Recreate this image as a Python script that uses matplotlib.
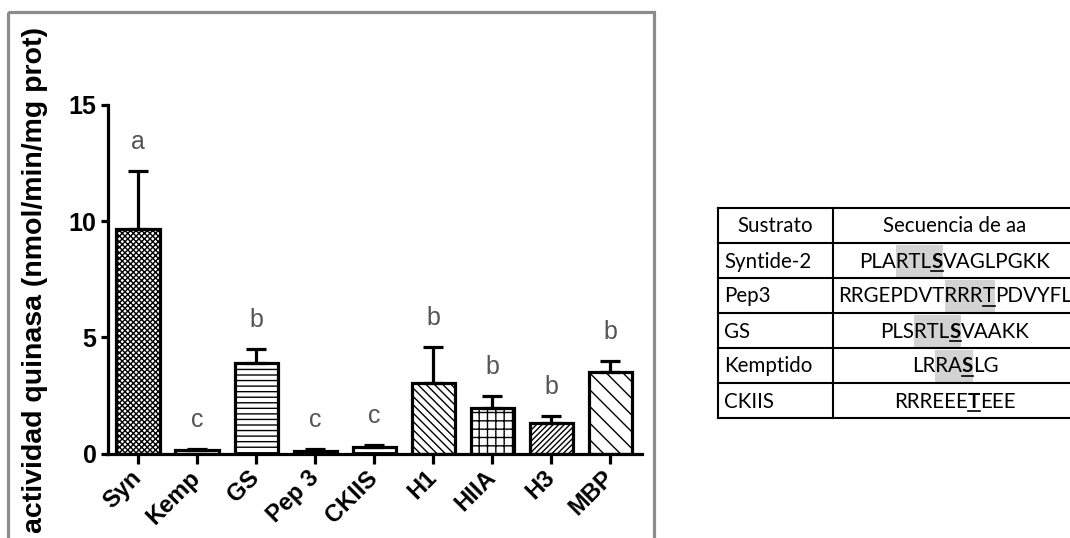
import matplotlib
matplotlib.use("Agg")
import matplotlib.pyplot as plt
import numpy as np
from matplotlib.font_manager import FontProperties
from matplotlib.patches import Rectangle

# ── Data ───────────────────────────────────────────────────────────────
SUBSTRATES = ["Syn", "Kemp", "GS", "Pep 3", "CKIIS", "H1", "HIIA", "H3", "MBP"]
ACTIVITY = [9.65, 0.15, 3.9, 0.12, 0.27, 3.04, 1.95, 1.33, 3.5]
SEM = [2.5, 0.06, 0.6, 0.08, 0.08, 1.53, 0.54, 0.28, 0.5]
GROUPS = ["a", "c", "b", "c", "c", "b", "b", "b", "b"]
HATCHES = ["xxxxxx", "", "---", "", "---", "\\\\\\\\", "++", "//////", "\\\\"]

Y_LABEL = "actividad quinasa (nmol/min/mg prot)"
Y_TICKS = [0, 5, 10, 15]

TABLE_HEADER = ["Sustrato", "Secuencia de aa"]
TABLE_NAMES = ["Syntide-2", "Pep3", "GS", "Kemptido", "CKIIS"]
TABLE_SEQS = ["PLARTLSVAGLPGKK", "RRGEPDVTRRRTPDVYFL", "PLSRTLSVAAKK", "LRRASLG", "RRREEETEEE"]
HIGHLIGHT = [(3, 7), (8, 12), (3, 7), (2, 5), None]   # shaded residues [start, end)
SITE = [6, 11, 6, 4, 6]                               # phospho-acceptor residue
SITE_BOLD = [True, False, True, True, True]

W, H = 1070, 538
TABLE_FONT = "Lato"
TABLE_SIZE = 14.8

plt.rcParams["font.family"] = ["Liberation Sans", "DejaVu Sans"]
plt.rcParams["hatch.linewidth"] = 1.0

fig = plt.figure(figsize=(W / 100, H / 100), dpi=100)
fig.patch.set_facecolor("white")

# ── Bar chart ──────────────────────────────────────────────────────────
ax = fig.add_axes([107.5 / W, 1 - 453.5 / H, (642 - 107.5) / W, (453.5 - 105) / H])
x = np.arange(len(SUBSTRATES))
bars = ax.bar(x, ACTIVITY, width=0.73, color="white", edgecolor="black",
              linewidth=2.3, zorder=2)
for bar, hatch in zip(bars, HATCHES):
    bar.set_hatch(hatch)
ax.errorbar(x, ACTIVITY, yerr=[np.zeros(len(x)), SEM], fmt="none", ecolor="black",
            elinewidth=2.3, capsize=7, capthick=2.3, zorder=3)

for xi, m, e, g in zip(x, ACTIVITY, SEM, GROUPS):
    ax.text(xi, m + e + 1.25, g, ha="center", va="center", fontsize=18,
            color="#555555", clip_on=False)

ax.set_xlim(-0.517, 8.54)
ax.set_ylim(0, 15)
ax.set_yticks(Y_TICKS)
ax.set_xticks(x)
ax.set_xticklabels(SUBSTRATES, rotation=45, ha="right", va="center",
                   rotation_mode="anchor", fontsize=17, fontweight="bold")
for lab in ax.get_yticklabels():
    lab.set_fontweight("bold")
ax.tick_params(axis="y", length=5, width=2.3, labelsize=18, pad=3)
ax.tick_params(axis="x", length=7, width=2.3, pad=8)
for side in ("top", "right"):
    ax.spines[side].set_visible(False)
for side in ("left", "bottom"):
    ax.spines[side].set_linewidth(2.3)
ax.patch.set_alpha(0)

# ── Overlay in pixel coordinates: frame, y label, table ────────────────
ov = fig.add_axes([0, 0, 1, 1], zorder=-1)
ov.set_xlim(0, W)
ov.set_ylim(H, 0)
ov.axis("off")

ov.add_patch(Rectangle((8, 12), 646, 600, fill=False, edgecolor="#8c8c8c", linewidth=2.3))
ov.text(35, 280, Y_LABEL, rotation=90, ha="center", va="center",
        fontsize=20.5, fontweight="bold")

tab_left, tab_div, tab_right = 718, 833, 1073
row_lines = [208, 243, 278, 313, 348, 383, 418]
for yl in row_lines:
    ov.plot([tab_left, tab_right], [yl, yl], color="black", lw=1.5, solid_capstyle="projecting")
for xl in (tab_left, tab_div):
    ov.plot([xl, xl], [row_lines[0], row_lines[-1]], color="black", lw=1.5,
            solid_capstyle="projecting")

renderer = fig.canvas.get_renderer()


def advance(text, weight):
    """Pen advance of *text* in pixels, measured between two sentinel bars."""
    if not text:
        return 0.0
    prop = FontProperties(family=TABLE_FONT, size=TABLE_SIZE, weight=weight)
    full = renderer.get_text_width_height_descent("|" + text + "|", prop, ismath=False)[0]
    bare = renderer.get_text_width_height_descent("||", prop, ismath=False)[0]
    return full - bare


col2_center = 955
header_base = (row_lines[0] + row_lines[1]) / 2 + 7
ov.text((tab_left + tab_div) / 2, header_base, TABLE_HEADER[0],
        ha="center", va="baseline", family=TABLE_FONT, fontsize=TABLE_SIZE)
ov.text(col2_center, header_base, TABLE_HEADER[1],
        ha="center", va="baseline", family=TABLE_FONT, fontsize=TABLE_SIZE)

for i, (name, seq) in enumerate(zip(TABLE_NAMES, TABLE_SEQS)):
    top, bot = row_lines[i + 1], row_lines[i + 2]
    base = (top + bot) / 2 + 7
    ov.text(724, base, name, ha="left", va="baseline", family=TABLE_FONT, fontsize=TABLE_SIZE)

    s = SITE[i]
    wsite = "bold" if SITE_BOLD[i] else "normal"
    pieces = [(seq[:s], "normal"), (seq[s], wsite), (seq[s + 1:], "normal")]
    widths = [advance(t, w) for t, w in pieces]
    x0 = col2_center - sum(widths) / 2
    starts = [x0, x0 + widths[0], x0 + widths[0] + widths[1]]

    hl = HIGHLIGHT[i]
    if hl is not None:
        hx0 = x0 + advance(seq[:hl[0]], "normal")
        hx1 = starts[2] + advance(seq[s + 1:hl[1]], "normal")
        ov.add_patch(Rectangle((hx0, top + 1.5), hx1 - hx0, bot - top - 3,
                               facecolor="#d3d3d3", edgecolor="none", zorder=1))

    for (t, w), xs in zip(pieces, starts):
        if t:
            ov.text(xs, base, t, ha="left", va="baseline", family=TABLE_FONT,
                    fontsize=TABLE_SIZE, fontweight=w, zorder=2)
    ov.plot([starts[1], starts[2]], [base + 3, base + 3], color="black", lw=1.2, zorder=3)

fig.savefig("out.png", dpi=100, facecolor="white")
